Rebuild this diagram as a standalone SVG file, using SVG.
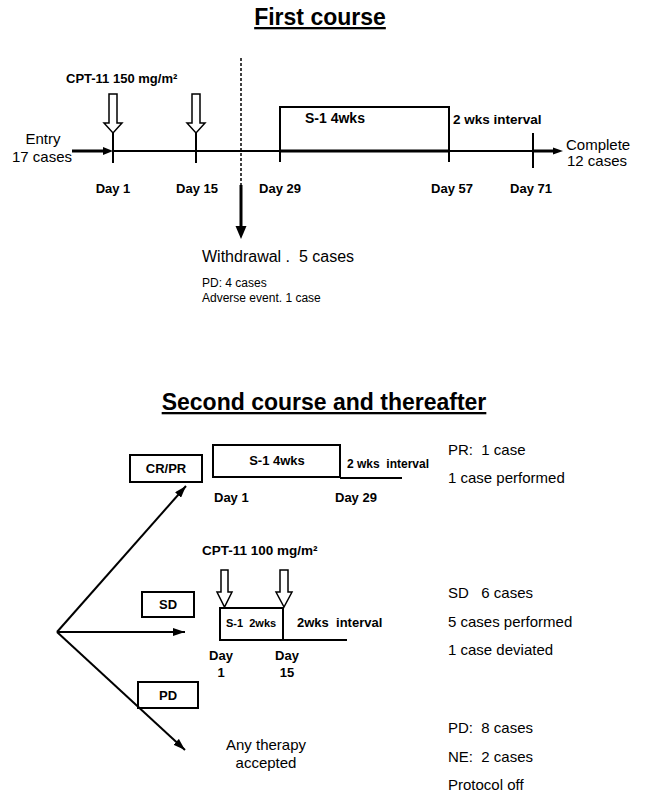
<svg xmlns="http://www.w3.org/2000/svg" width="650" height="793" viewBox="0 0 650 793">
<defs>
<style>
text{font-family:"Liberation Sans",Arial,sans-serif;fill:#000}
.t{font-size:23px;font-weight:bold;text-decoration:underline}
.b{font-size:13px;font-weight:bold}
.r{font-size:15px}
.s{font-size:12px}
.ln{stroke:#000;stroke-width:2;fill:none}
.th{stroke:#000;stroke-width:3;fill:none}
.box{fill:#fff;stroke:#000;stroke-width:2}
.oa{fill:#fff;stroke:#000;stroke-width:1.5;stroke-linejoin:miter}
.hd{fill:#000;stroke:none}
</style>
<marker id="ah" viewBox="0 0 12 8" refX="12" refY="4" markerWidth="12" markerHeight="8" markerUnits="userSpaceOnUse" orient="auto">
<path d="M0,0 L12,4 L0,8 z" fill="#000"/>
</marker>
</defs>
<rect width="650" height="793" fill="#fff"/>

<g id="title-first"><text class="t" x="320" y="25" text-anchor="middle">First course</text></g>
<g id="entry"><text class="r" x="43" y="144" text-anchor="middle">Entry</text><text class="r" x="42" y="162" text-anchor="middle">17 cases</text></g>
<g id="cpt150"><text class="b" x="66" y="83">CPT-11 150 mg/m²</text></g>
<g id="s1-first"><text class="b" x="305" y="123" style="font-size:14px">S-1 4wks</text></g>
<g id="interval-first"><text class="b" x="453" y="124" style="font-size:13.5px">2 wks interval</text></g>
<g id="complete"><text class="r" x="566" y="150">Complete</text><text class="r" x="567" y="166">12 cases</text></g>
<g id="days-first">
<text class="b" x="113" y="193" text-anchor="middle">Day 1</text>
<text class="b" x="197" y="193" text-anchor="middle">Day 15</text>
<text class="b" x="280" y="193" text-anchor="middle">Day 29</text>
<text class="b" x="452" y="193" text-anchor="middle">Day 57</text>
<text class="b" x="531" y="193" text-anchor="middle">Day 71</text>
</g>
<g id="withdrawal">
<text class="r" x="202" y="262" style="font-size:16px" xml:space="preserve">Withdrawal .  5 cases</text>
<text class="s" x="202" y="287">PD: 4 cases</text>
<text class="s" x="202" y="302">Adverse event. 1 case</text>
</g>

<g id="title-second"><text class="t" x="324" y="410" text-anchor="middle">Second course and thereafter</text></g>
<g id="crpr"><rect class="box" x="130" y="455" width="72" height="27"/><text class="b" x="166" y="473" text-anchor="middle">CR/PR</text></g>
<g id="s1-second"><rect class="box" x="213" y="445" width="127" height="32"/><text class="b" x="277" y="465" text-anchor="middle">S-1 4wks</text>
<text class="b" x="347" y="468" style="font-size:12px" xml:space="preserve">2 wks  interval</text>
<text class="b" x="214" y="502">Day 1</text><text class="b" x="335" y="502">Day 29</text></g>
<g id="cpt100"><text class="b" x="202" y="555" style="font-size:13.5px">CPT-11 100 mg/m²</text></g>
<g id="sd"><rect class="box" x="142" y="592" width="52" height="25"/><text class="b" x="168" y="609" text-anchor="middle">SD</text></g>
<g id="sd-schedule">
<rect class="box" x="220" y="608" width="63" height="32"/>
<text class="b" x="226" y="627" style="font-size:11px" xml:space="preserve">S-1  2wks</text>
<text class="b" x="297" y="627" xml:space="preserve">2wks  interval</text>
<text class="b" x="221" y="660" text-anchor="middle">Day</text><text class="b" x="221" y="677" text-anchor="middle">1</text>
<text class="b" x="287" y="660" text-anchor="middle">Day</text><text class="b" x="287" y="677" text-anchor="middle">15</text>
</g>
<g id="pd"><rect class="box" x="138" y="682" width="60" height="26"/><text class="b" x="168" y="700" text-anchor="middle">PD</text></g>
<g id="any-therapy"><text class="r" x="266" y="750" text-anchor="middle">Any therapy</text><text class="r" x="266" y="768" text-anchor="middle">accepted</text></g>
<g id="results">
<text class="r" x="448" y="455" xml:space="preserve">PR:  1 case</text>
<text class="r" x="448" y="483">1 case performed</text>
<text class="r" x="448" y="598" xml:space="preserve">SD   6 cases</text>
<text class="r" x="448" y="627">5 cases performed</text>
<text class="r" x="448" y="655">1 case deviated</text>
<text class="r" x="448" y="733" xml:space="preserve">PD:  8 cases</text>
<text class="r" x="448" y="762" xml:space="preserve">NE:  2 cases</text>
<text class="r" x="448" y="790">Protocol off</text>
</g>

<g id="connectors">
<line class="th" x1="72" y1="151" x2="105" y2="151"/>
<polygon class="hd" points="103,147 113,151 103,155"/>
<line class="ln" x1="113" y1="151" x2="533" y2="151"/>
<line class="th" x1="280" y1="151" x2="449" y2="151"/>
<line class="th" x1="533" y1="151" x2="555" y2="151"/>
<polygon class="hd" points="553,147.5 563,151 553,154.5"/>
<line class="ln" x1="113" y1="133" x2="113" y2="163"/>
<line class="ln" x1="196" y1="133" x2="196" y2="163"/>
<polyline class="ln" points="280,162 280,107 449,107 449,162"/>
<line class="ln" x1="533" y1="133" x2="533" y2="168"/>
<polygon class="oa" points="109,94 117,94 117,123 122,123 113,133 104,123 109,123"/>
<polygon class="oa" points="192,94 200,94 200,123 205,123 196,133 187,123 192,123"/>
<line x1="241" y1="58" x2="241" y2="185" stroke="#000" stroke-width="1.5" stroke-dasharray="3,2"/>
<line class="th" x1="241" y1="185" x2="241" y2="228"/>
<polygon class="hd" points="235.5,226 241,239 246.5,226"/>

<line class="ln" x1="57" y1="632" x2="186" y2="486" stroke-width="2.5" marker-end="url(#ah)"/>
<line class="ln" x1="57" y1="632" x2="185" y2="632" stroke-width="2.5" marker-end="url(#ah)"/>
<line class="ln" x1="57" y1="632" x2="185" y2="750" stroke-width="2.5" marker-end="url(#ah)"/>
<line class="ln" x1="340" y1="478" x2="402" y2="478"/>
<line class="ln" x1="283" y1="640" x2="347" y2="640"/>
<polygon class="oa" points="221,570 228,570 228,592 232,592 224.5,607 217,592 221,592"/>
<polygon class="oa" points="280,570 288,570 288,592 292,592 284,607 276,592 280,592"/>
</g>
</svg>
